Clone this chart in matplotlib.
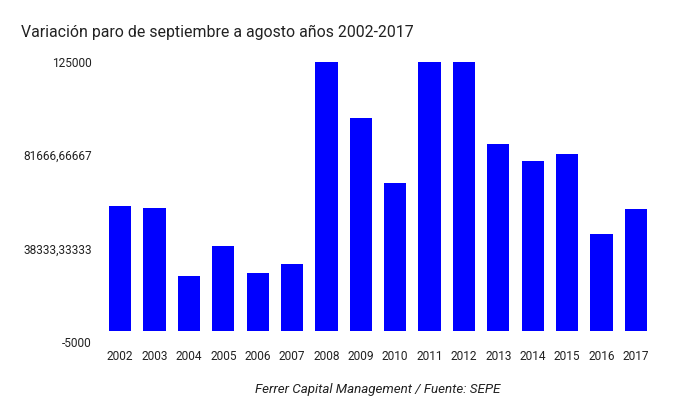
import matplotlib
matplotlib.use("Agg")
import matplotlib.pyplot as plt
import numpy as np

plt.rcParams['font.family'] = ['Roboto', 'DejaVu Sans']

years = ['2002', '2003', '2004', '2005', '2006', '2007', '2008', '2009',
         '2010', '2011', '2012', '2013', '2014', '2015', '2016', '2017']
# variacion del paro; 2008, 2011 y 2012 salen del grafico (recortadas en 125000)
variacion = [58000, 56900, 25350, 39560, 27000, 31200, 160000, 99000,
             68500, 160000, 160000, 86800, 79000, 82100, 44850, 56700]

ytick_vals = [-5000, 38333.33333, 81666.66667, 125000]
ytick_labels = ['-5000', '38333,33333', '81666,66667', '125000']

fig = plt.figure(figsize=(6.8, 4.2), dpi=100)
ax = fig.add_axes([103 / 680, 1 - 341.7 / 420, 550 / 680, 280 / 420])

x = np.arange(len(years))
ax.bar(x, variacion, width=0.65, color='#0000ff')

ax.set_xlim(-0.5, len(years) - 0.5)
ax.set_ylim(-5000, 125000)
ax.set_xticks(x)
ax.set_xticklabels(years)
ax.set_yticks(ytick_vals)
ax.set_yticklabels(ytick_labels)
ax.tick_params(axis='both', length=0, labelsize=8.6, labelcolor='#222222')
ax.tick_params(axis='y', pad=8.1)
ax.tick_params(axis='x', pad=6)
for s in ax.spines.values():
    s.set_visible(False)

fig.text(21 / 680, 1 - 32.5 / 420, 'Variación paro de septiembre a agosto años 2002-2017',
         fontsize=11.4, color='#222222', va='center', ha='left')
fig.text(378 / 680, 1 - 390 / 420, 'Ferrer Capital Management / Fuente: SEPE',
         fontsize=9.6, style='italic', color='#222222', va='center', ha='center')

fig.savefig('out.png', dpi=100)
